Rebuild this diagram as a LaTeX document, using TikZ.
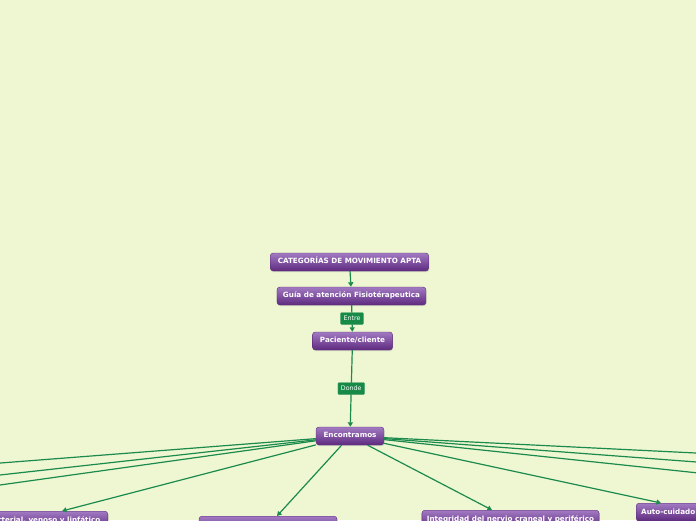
\documentclass[tikz,border=0pt]{standalone}
\usepackage{fontspec}
\setmainfont{DejaVu Sans}
\usetikzlibrary{arrows.meta,shadows,calc}
\definecolor{bgc}{HTML}{EEF7D2}
\definecolor{nodeTop}{HTML}{A27AC2}
\definecolor{nodeBot}{HTML}{5E2A7F}
\definecolor{nodeLine}{HTML}{5A2A78}
\definecolor{edgec}{HTML}{1C8A4C}
\definecolor{lblc}{HTML}{178A47}
\tikzset{
  topic/.style={rectangle, rounded corners=3pt, top color=nodeTop, bottom color=nodeBot,
    draw=nodeLine, line width=0.4pt, text=white, font=\fontsize{7.2}{8}\selectfont\bfseries,
    inner xsep=7.5pt, inner ysep=0pt, minimum height=18pt, text height=5.3pt, text depth=1.5pt,
    drop shadow={shadow xshift=0.6pt, shadow yshift=-1.2pt, opacity=0.25}},
  lbl/.style={rectangle, rounded corners=1pt, fill=lblc, draw=lblc!80!white, line width=0.3pt,
    text=white, font=\fontsize{6.3}{7}\selectfont, inner xsep=3pt, inner ysep=0pt,
    minimum height=12pt, text height=4.5pt, text depth=1.3pt},
  conn/.style={draw=edgec, line width=1.2pt},
  arr/.style={conn, -{Triangle[width=5pt,length=4.5pt]}}
}
\begin{document}
\begin{tikzpicture}[x=1pt,y=-1pt]
\useasboundingbox (0,0) rectangle (696,520);
\fill[bgc] (0,0) rectangle (696,520);
\clip (0,0) rectangle (696,520);

\node[topic] (cat) at (349.5,262) {CATEGORÍAS DE MOVIMIENTO APTA};
\node[topic, inner xsep=6pt] (guia) at (351.5,296) {Guía de atención Fisiotérapeutica};
\node[topic] (pac) at (352.5,341) {Paciente/cliente};
\node[topic] (enc) at (350,436) {Encontramos};

\node[topic, anchor=north east] (circ) at (108,511) {Circulación arterial, venoso y linfático};
\node[topic, anchor=north, minimum width=138pt] (n2) at (268,516) {};
\node[topic, anchor=north, inner xsep=5pt, minimum width=175pt] (integ) at (510.5,510) {Integridad del nervio craneal y periférico};
\node[topic, anchor=north west, inner xsep=5pt, text width=90pt, align=left] (auto) at (636,503) {Auto-cuidado};

\coordinate (l1) at (-10,463.8);
\coordinate (l2) at (-10,476.1);
\coordinate (l3) at (-10,486.4);
\coordinate (r1) at (706,453.5);
\coordinate (r2) at (706,462.7);
\coordinate (r3) at (706,473.8);

\draw[arr] (cat) -- (guia);
\draw[arr] (guia) -- (pac) node[lbl, midway] {Entre};
\draw[arr] (pac) -- (enc) node[lbl, midway] {Donde};

\draw[conn] (enc) -- (l1);
\draw[conn] (enc) -- (l2);
\draw[conn] (enc) -- (l3);
\draw[conn] (enc) -- (r1);
\draw[conn] (enc) -- (r2);
\draw[conn] (enc) -- (r3);
\draw[arr] (enc) -- ($(circ.north east)+(-46,0)$);
\draw[arr] (enc) -- ($(n2.north)+(9,0)$);
\draw[arr] (enc) -- ($(integ.north)+(-18.5,0)$);
\draw[arr] (enc) -- ($(auto.north west)+(25,0)$);
\end{tikzpicture}
\end{document}
